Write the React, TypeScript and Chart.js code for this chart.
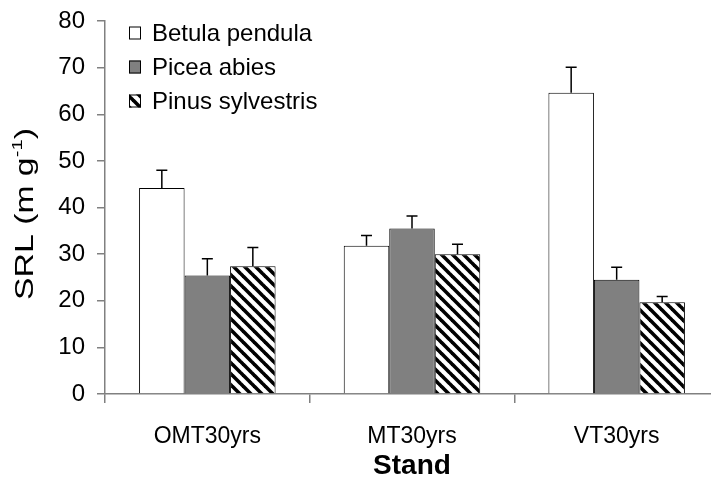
import React, { useEffect, useRef } from "react";
import { Chart, registerables } from "chart.js";

Chart.register(...registerables);

const categories = ["OMT30yrs", "MT30yrs", "VT30yrs"];
const seriesNames = ["Betula pendula", "Picea abies", "Pinus sylvestris"];
const betula = [44.2, 31.8, 64.6];
const betulaErr = [3.8, 2.2, 5.5];
const picea = [25.4, 35.5, 24.5];
const piceaErr = [3.6, 2.7, 2.7];
const pinus = [27.4, 30.0, 19.7];
const pinusErr = [4.0, 2.1, 1.2];
const yTicks = { min: 0, max: 80, step: 10 };

const FONT = "'Liberation Sans', Arial, Helvetica, sans-serif";

function makeHatch(): CanvasPattern | string {
  const p = 11;
  const c = document.createElement("canvas");
  c.width = p;
  c.height = p;
  const g = c.getContext("2d");
  if (!g) return "#000";
  g.fillStyle = "#fff";
  g.fillRect(0, 0, p, p);
  g.strokeStyle = "#000";
  g.lineWidth = 3.6;
  for (const off of [-p, 0, p]) {
    g.beginPath();
    g.moveTo(off - 1, -1);
    g.lineTo(off + p + 1, p + 1);
    g.stroke();
  }
  const ctx = document.createElement("canvas").getContext("2d");
  return (ctx && ctx.createPattern(c, "repeat")) || "#000";
}

const errorBarPlugin = {
  id: "errorBars",
  afterDatasetsDraw(chart: any) {
    const ctx = chart.ctx;
    const y = chart.scales.y;
    ctx.save();
    ctx.strokeStyle = "#000";
    ctx.lineWidth = 1.5;
    chart.data.datasets.forEach((ds: any, i: number) => {
      const meta = chart.getDatasetMeta(i);
      meta.data.forEach((bar: any, j: number) => {
        const v = ds.data[j];
        const e = ds.errors[j];
        const top = y.getPixelForValue(v);
        const et = y.getPixelForValue(v + e);
        ctx.beginPath();
        ctx.moveTo(bar.x, top);
        ctx.lineTo(bar.x, et);
        ctx.moveTo(bar.x - 5.5, et);
        ctx.lineTo(bar.x + 5.5, et);
        ctx.stroke();
      });
    });
    ctx.restore();
  },
};

const legendAndTitlesPlugin = {
  id: "legendTitles",
  afterDraw(chart: any) {
    const ctx = chart.ctx;
    const area = chart.chartArea;
    ctx.save();
    // legend
    ctx.font = `24px ${FONT}`;
    ctx.textBaseline = "middle";
    ctx.textAlign = "left";
    chart.data.datasets.forEach((ds: any, i: number) => {
      const cy = 33 + i * 34;
      const bx = 129;
      const bw = 12;
      const bh = 13;
      ctx.fillStyle = ds.backgroundColor;
      ctx.fillRect(bx, cy - bh / 2, bw, bh);
      ctx.strokeStyle = "#000";
      ctx.lineWidth = 1;
      ctx.strokeRect(bx + 0.5, cy - bh / 2 + 0.5, bw - 1, bh - 1);
      ctx.fillStyle = "#000";
      ctx.fillText(ds.label, 152, cy + 1);
    });
    // x title
    ctx.font = `bold 28px ${FONT}`;
    ctx.textAlign = "center";
    ctx.textBaseline = "middle";
    ctx.fillText("Stand", (area.left + area.right) / 2, 466);
    // y title with superscript (horizontally stretched as in reference)
    ctx.translate(24, 214);
    ctx.rotate(-Math.PI / 2);
    ctx.scale(1.35, 1);
    const main = "SRL (m g";
    const sup = "-1";
    const close = ")";
    ctx.font = `25px ${FONT}`;
    const w1 = ctx.measureText(main).width;
    const w3 = ctx.measureText(close).width;
    ctx.font = `15px ${FONT}`;
    const w2 = ctx.measureText(sup).width;
    const total = w1 + w2 + w3;
    let x = -total / 2;
    ctx.textAlign = "left";
    ctx.textBaseline = "alphabetic";
    ctx.font = `25px ${FONT}`;
    ctx.fillText(main, x, 9);
    x += w1;
    ctx.font = `15px ${FONT}`;
    ctx.fillText(sup, x, -2);
    x += w2;
    ctx.font = `25px ${FONT}`;
    ctx.fillText(close, x, 9);
    ctx.restore();
  },
};

export default function App() {
  const ref = useRef<HTMLCanvasElement | null>(null);
  useEffect(() => {
    document.body.style.margin = "0";
    document.body.style.overflow = "hidden";
    const canvas = ref.current;
    if (!canvas) return;
    const hatch = makeHatch();
    const chart = new Chart(canvas, {
      type: "bar",
      data: {
        labels: categories,
        datasets: [
          { label: seriesNames[0], data: betula, errors: betulaErr, backgroundColor: "#ffffff", borderColor: "#000", borderWidth: 1 } as any,
          { label: seriesNames[1], data: picea, errors: piceaErr, backgroundColor: "#808080", borderColor: "#000", borderWidth: 1 } as any,
          { label: seriesNames[2], data: pinus, errors: pinusErr, backgroundColor: hatch, borderColor: "#000", borderWidth: 1 } as any,
        ],
      },
      options: {
        responsive: false,
        animation: false,
        devicePixelRatio: 1,
        layout: { padding: { top: 21, right: 1, left: 0, bottom: 0 } },
        datasets: { bar: { categoryPercentage: 0.667, barPercentage: 1 } },
        plugins: { legend: { display: false }, tooltip: { enabled: false }, title: { display: false } },
        scales: {
          x: {
            grid: { drawOnChartArea: false, tickLength: 9, color: "#808080", offset: true, lineWidth: 1.5 },
            border: { color: "#808080", width: 1.5 },
            ticks: { color: "#000", font: { family: FONT, size: 23 }, padding: 20, maxRotation: 0 },
            afterFit: (s: any) => {
              s.height = 89;
              s.paddingLeft = 0;
              s.paddingRight = 0;
            },
          },
          y: {
            min: yTicks.min,
            max: yTicks.max,
            grid: { drawOnChartArea: false, tickLength: 8, color: "#808080", lineWidth: 1.5 },
            border: { color: "#808080", width: 1.5 },
            ticks: { stepSize: yTicks.step, color: "#000", font: { family: FONT, size: 24 }, padding: 12 },
            afterFit: (s: any) => {
              s.width = 105;
              s.paddingTop = 0;
              s.paddingBottom = 0;
            },
          },
        },
      },
      plugins: [errorBarPlugin, legendAndTitlesPlugin],
    } as any);
    return () => chart.destroy();
  }, []);
  return (
    <div style={{ width: 720, height: 483, background: "#fff" }}>
      <canvas ref={ref} width={720} height={483} />
    </div>
  );
}
